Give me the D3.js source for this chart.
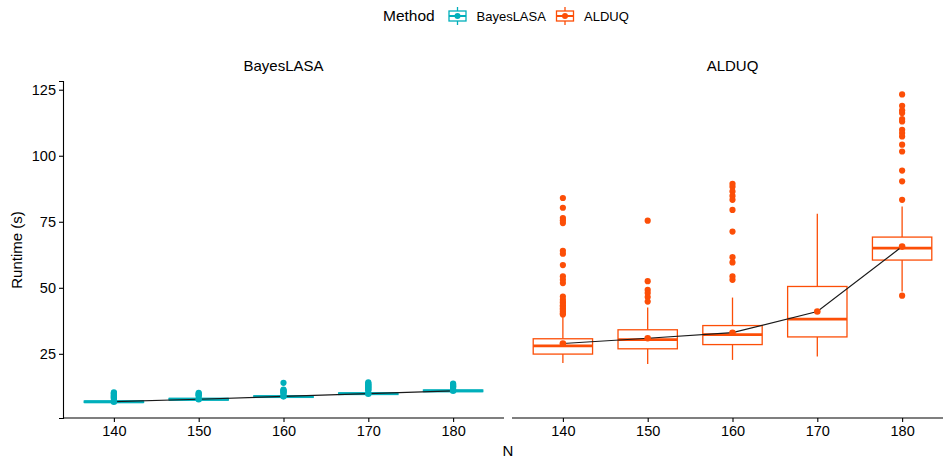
<!DOCTYPE html>
<html>
<head>
<meta charset="utf-8">
<script src="https://cdn.jsdelivr.net/npm/d3@7"></script>
<style>
  html, body { margin: 0; padding: 0; background: #fff; }
  svg { display: block; font-family: "Liberation Sans", Arial, Helvetica, sans-serif; }
</style>
</head>
<body>
<svg id="chart" width="943" height="461"></svg>
<script>
// ---------------- data ----------------
const categories = [140, 150, 160, 170, 180];
const methods = ["BayesLASA", "ALDUQ"];
const colors = ["#00AFBB", "#FC4E07"];
const yTicks = [25, 50, 75, 100, 125];

// BayesLASA box statistics
const bayesLow    = [6.3, 7.2, 8.2, 9.3, 10.4];
const bayesQ1     = [6.6, 7.5, 8.5, 9.6, 10.7];
const bayesMedian = [6.85, 7.8, 8.8, 9.9, 11.0];
const bayesQ3     = [7.1, 8.1, 9.1, 10.2, 11.3];
const bayesHigh   = [7.8, 8.8, 9.8, 10.9, 11.9];
const bayesMean   = [6.9, 7.8, 8.9, 9.9, 11.0];
const bayesOutliers = [
  [8.0, 8.3, 8.6, 8.9, 9.2, 9.5, 9.8, 10.1, 10.4],
  [9.0, 9.3, 9.6, 9.9, 10.2],
  [10.0, 10.3, 10.6, 10.9, 11.2, 11.5, 14.0],
  [11.1, 11.4, 11.7, 12.0, 12.3, 12.6, 12.9, 13.2, 13.5, 13.8, 14.2],
  [12.1, 12.4, 12.7, 13.0, 13.4, 13.7]
];

// ALDUQ box statistics
const aldLow    = [21.5, 21.1, 22.7, 24.0, 48.6];
const aldQ1     = [24.9, 26.9, 28.5, 31.4, 60.5];
const aldMedian = [28.0, 30.4, 32.3, 38.1, 65.0];
const aldQ3     = [30.7, 34.1, 35.7, 50.5, 69.2];
const aldHigh   = [39.1, 42.5, 46.3, 78.0, 80.8];
const aldMean   = [28.9, 30.9, 33.0, 41.0, 65.6];
const aldOutliers = [
  [84.0, 80.3, 76.4, 75.5, 74.5, 64.0, 62.9, 58.6, 54.3, 53.0, 51.8, 46.7, 45.5, 44.6, 44.2, 43.4, 42.9, 42.2, 41.7, 41.0, 40.4, 39.9],
  [75.4, 52.5, 49.2, 48.0, 46.5, 44.8],
  [89.4, 88.3, 86.5, 84.8, 83.3, 79.5, 71.3, 61.6, 59.6, 54.3, 53.0],
  [],
  [123.2, 118.9, 117.2, 116.2, 113.9, 113.0, 109.8, 108.6, 107.3, 104.2, 101.6, 94.4, 90.3, 83.3, 47.0]
];

const panelStats = [
  {low: bayesLow, q1: bayesQ1, med: bayesMedian, q3: bayesQ3, high: bayesHigh, mean: bayesMean, out: bayesOutliers},
  {low: aldLow, q1: aldQ1, med: aldMedian, q3: aldQ3, high: aldHigh, mean: aldMean, out: aldOutliers}
];

// ---------------- layout ----------------
const svg = d3.select("#chart");
const panelLeft = [63, 512];
const panelWidth = 441;
const panelTop = 81, panelBottom = 418;
const boxWidth = 7; // in N units

const y = d3.scaleLinear().domain([0.7, 128.3]).range([panelBottom, panelTop]);
const axisColor = "#000";

// y axis (left panel only)
const yAxisG = svg.append("g").attr("transform", `translate(${panelLeft[0]},0)`)
  .call(d3.axisLeft(y).tickValues(yTicks).tickSize(4).tickPadding(3));
yAxisG.select(".domain").attr("stroke", axisColor).attr("stroke-width", 1.1);
yAxisG.selectAll(".tick line").attr("stroke", axisColor).attr("stroke-width", 1.1);
yAxisG.selectAll(".tick text").attr("font-size", 14.5).attr("fill", "#000").attr("font-family", null);

methods.forEach((m, pi) => {
  const x = d3.scaleLinear().domain([134, 186]).range([panelLeft[pi], panelLeft[pi] + panelWidth]);
  const col = colors[pi];
  const s = panelStats[pi];
  const g = svg.append("g");

  // strip label
  svg.append("text").attr("x", (x(134) + x(186)) / 2).attr("y", 71)
    .attr("text-anchor", "middle").attr("font-size", 15).attr("fill", "#000").text(m);

  // x axis
  const xAxisG = svg.append("g").attr("transform", `translate(0,${panelBottom})`)
    .call(d3.axisBottom(x).tickValues(categories).tickSize(4).tickPadding(4).tickFormat(d3.format("d")));
  xAxisG.select(".domain").attr("stroke", axisColor).attr("stroke-width", 1.1).attr("d", `M${x(134)},0H${x(186)}`);
  xAxisG.selectAll(".tick line").attr("stroke", axisColor).attr("stroke-width", 1.1);
  xAxisG.selectAll(".tick text").attr("font-size", 14.5).attr("fill", "#000").attr("font-family", null);

  const hw = boxWidth / 2;
  categories.forEach((c, i) => {
    // whiskers
    g.append("line").attr("x1", x(c)).attr("x2", x(c)).attr("y1", y(s.q3[i])).attr("y2", y(s.high[i]))
      .attr("stroke", col).attr("stroke-width", 1.3);
    g.append("line").attr("x1", x(c)).attr("x2", x(c)).attr("y1", y(s.q1[i])).attr("y2", y(s.low[i]))
      .attr("stroke", col).attr("stroke-width", 1.3);
    // box
    g.append("rect").attr("x", x(c - hw)).attr("width", x(c + hw) - x(c - hw))
      .attr("y", y(s.q3[i])).attr("height", y(s.q1[i]) - y(s.q3[i]))
      .attr("fill", "#fff").attr("stroke", col).attr("stroke-width", 1.3);
    // median
    g.append("line").attr("x1", x(c - hw)).attr("x2", x(c + hw)).attr("y1", y(s.med[i])).attr("y2", y(s.med[i]))
      .attr("stroke", col).attr("stroke-width", 2.8);
  });

  // mean line
  g.append("path").datum(categories.map((c, i) => [x(c), y(s.mean[i])]))
    .attr("d", d3.line()).attr("fill", "none").attr("stroke", "#1a1a1a").attr("stroke-width", 1.2);

  // mean points
  categories.forEach((c, i) => {
    g.append("circle").attr("cx", x(c)).attr("cy", y(s.mean[i])).attr("r", 3.3).attr("fill", col);
  });

  // outliers
  categories.forEach((c, i) => {
    s.out[i].forEach(v => {
      g.append("circle").attr("cx", x(c)).attr("cy", y(v)).attr("r", 3.1).attr("fill", col);
    });
  });
});

// axis titles
svg.append("text").attr("x", 508).attr("y", 456).attr("text-anchor", "middle")
  .attr("font-size", 15).attr("fill", "#000").text("N");
svg.append("text").attr("transform", "translate(22,250) rotate(-90)").attr("text-anchor", "middle")
  .attr("font-size", 15).attr("fill", "#000").text("Runtime (s)");

// legend
const lg = svg.append("g");
lg.append("text").attr("x", 383).attr("y", 21).attr("font-size", 15.5).attr("fill", "#000").text("Method");
const legendItems = [{x: 457.5, label: "BayesLASA"}, {x: 565, label: "ALDUQ"}];
legendItems.forEach((it, i) => {
  const col = colors[i];
  const cy = 16;
  lg.append("line").attr("x1", it.x).attr("x2", it.x).attr("y1", cy - 9).attr("y2", cy + 9)
    .attr("stroke", col).attr("stroke-width", 1.3);
  lg.append("rect").attr("x", it.x - 8.5).attr("y", cy - 5).attr("width", 17).attr("height", 10)
    .attr("fill", "#fff").attr("stroke", col).attr("stroke-width", 1.3);
  lg.append("line").attr("x1", it.x - 8.5).attr("x2", it.x + 8.5).attr("y1", cy).attr("y2", cy)
    .attr("stroke", col).attr("stroke-width", 2);
  lg.append("circle").attr("cx", it.x).attr("cy", cy).attr("r", 3).attr("fill", col);
  lg.append("text").attr("x", it.x + 19).attr("y", cy + 5).attr("font-size", 13).attr("fill", "#000").text(it.label);
});
</script>
</body>
</html>
